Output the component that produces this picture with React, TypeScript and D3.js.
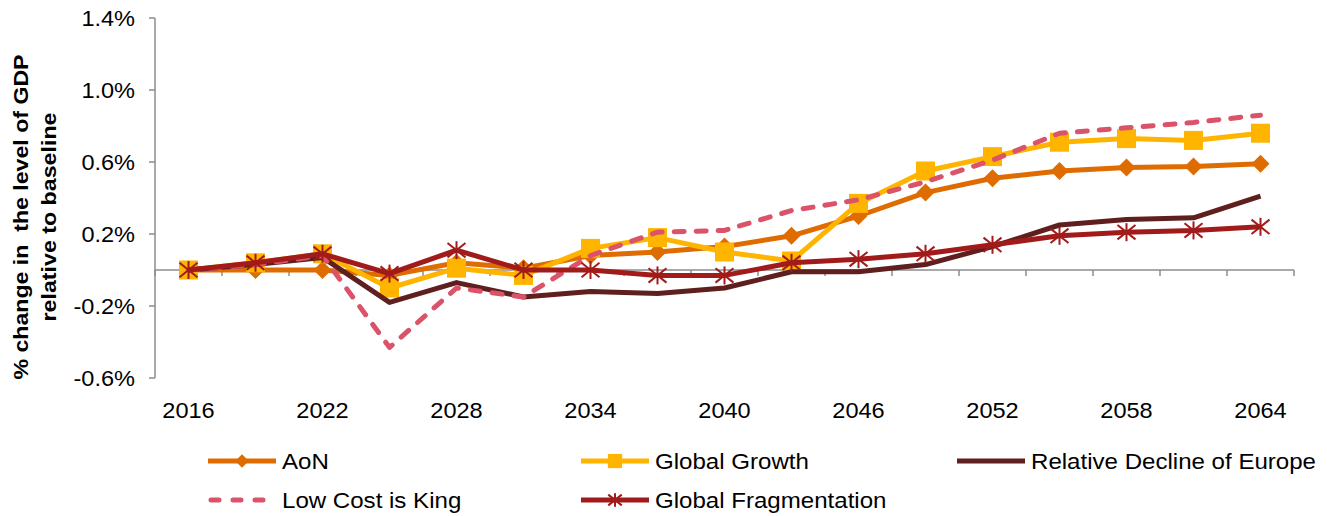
import React from "react";
import * as d3 from "d3";

const years = [2016, 2019, 2022, 2025, 2028, 2031, 2034, 2037, 2040, 2043, 2046, 2049, 2052, 2055, 2058, 2061, 2064];
const yearLabels = [2016, 2022, 2028, 2034, 2040, 2046, 2052, 2058, 2064];
const yTicks = [1.4, 1.0, 0.6, 0.2, -0.2, -0.6];

const aon = [0, 0, 0, -0.03, 0.04, 0.01, 0.08, 0.1, 0.13, 0.19, 0.3, 0.43, 0.51, 0.55, 0.57, 0.575, 0.59];
const globalGrowth = [0, 0.04, 0.09, -0.1, 0.01, -0.03, 0.12, 0.18, 0.1, 0.05, 0.37, 0.55, 0.63, 0.71, 0.73, 0.72, 0.76];
const relDecline = [0, 0.03, 0.07, -0.18, -0.07, -0.15, -0.12, -0.13, -0.1, -0.01, -0.01, 0.03, 0.13, 0.25, 0.28, 0.29, 0.41];
const lowCost = [0, 0.03, 0.08, -0.43, -0.1, -0.15, 0.08, 0.21, 0.22, 0.33, 0.39, 0.49, 0.61, 0.76, 0.79, 0.82, 0.86];
const globalFrag = [0, 0.04, 0.09, -0.02, 0.11, 0.0, 0.0, -0.03, -0.03, 0.04, 0.06, 0.09, 0.14, 0.19, 0.21, 0.22, 0.24];

const seriesNames = ["AoN", "Global Growth", "Relative Decline of Europe", "Low Cost is King", "Global Fragmentation"];

type Series = { name: string; values: number[]; color: string; marker: string; dash?: string };

const series: Series[] = [
  { name: seriesNames[0], values: aon, color: "#DF6C00", marker: "diamond" },
  { name: seriesNames[1], values: globalGrowth, color: "#FFB400", marker: "square" },
  { name: seriesNames[2], values: relDecline, color: "#5E1F1E", marker: "none" },
  { name: seriesNames[3], values: lowCost, color: "#DA5368", marker: "none", dash: "10,12" },
  { name: seriesNames[4], values: globalFrag, color: "#A21B1B", marker: "star" },
];

const FONT = "Arial, 'Liberation Sans', Helvetica, sans-serif";
const AXIS = "#8C8C8C";
const SX = 1.07;

function Marker({ type, x, y, color, k = 1 }: { type: string; x: number; y: number; color: string; k?: number }) {
  if (type === "diamond") {
    const s = 9 * k;
    return <path d={`M${x},${y - s}L${x + s},${y}L${x},${y + s}L${x - s},${y}Z`} fill={color} />;
  }
  if (type === "square") {
    const s = 9.5 * k;
    return <rect x={x - s} y={y - s} width={2 * s} height={2 * s} fill={color} />;
  }
  if (type === "star") {
    const s = 9 * k;
    return (
      <g stroke={color} strokeWidth={2}>
        <line x1={x} y1={y - s} x2={x} y2={y + s} />
        <line x1={x - s} y1={y - s * 0.8} x2={x + s} y2={y + s * 0.8} />
        <line x1={x - s} y1={y + s * 0.8} x2={x + s} y2={y - s * 0.8} />
      </g>
    );
  }
  return null;
}

function SText({ x, y, anchor, size, children }: { x: number; y: number; anchor?: string; size: number; children: React.ReactNode }) {
  return (
    <text
      transform={`translate(${x},${y}) scale(${SX},1)`}
      dy="0.36em"
      textAnchor={anchor || "start"}
      fontSize={size}
      fill="#000"
    >
      {children}
    </text>
  );
}

export default function App() {
  const W = 1327;
  const H = 516;
  const x = d3.scaleBand<number>().domain(years).range([155, 1294]).padding(0);
  const cx = (yr: number) => (x(yr) as number) + x.bandwidth() / 2;
  const y = d3.scaleLinear().domain([-0.6, 1.4]).range([378, 18]);
  const line = d3
    .line<number>()
    .x((_, i) => cx(years[i]))
    .y((v) => y(v));

  const boundaries = years.map((yr) => x(yr) as number).concat([1294]);

  const legendItems = [
    { s: series[0], lx: 208, ty: 461 },
    { s: series[1], lx: 581, ty: 461 },
    { s: series[2], lx: 957, ty: 461 },
    { s: series[3], lx: 208, ty: 500 },
    { s: series[4], lx: 581, ty: 500 },
  ];

  return (
    <svg width={W} height={H} style={{ position: "absolute", left: 0, top: 0, background: "#fff" }} fontFamily={FONT}>
      {/* Y axis */}
      <line x1={155} x2={155} y1={y(1.4)} y2={y(-0.6)} stroke={AXIS} strokeWidth={1.5} />
      {yTicks.map((t) => (
        <g key={t}>
          <line x1={149} x2={155} y1={y(t)} y2={y(t)} stroke={AXIS} strokeWidth={1.5} />
          <SText x={135} y={y(t)} anchor="end" size={22}>
            {`${t.toFixed(1)}%`}
          </SText>
        </g>
      ))}
      {/* X axis at zero */}
      <line x1={155} x2={1294} y1={y(0)} y2={y(0)} stroke={AXIS} strokeWidth={1.5} />
      {boundaries.map((b, i) => (
        <line key={i} x1={b} x2={b} y1={y(0)} y2={y(0) + 6} stroke={AXIS} strokeWidth={1.5} />
      ))}
      {yearLabels.map((yr) => (
        <SText key={yr} x={cx(yr)} y={410} anchor="middle" size={22}>
          {yr}
        </SText>
      ))}
      {/* Y label */}
      <text
        transform="translate(21,217) rotate(-90)"
        textAnchor="middle"
        fontSize={20}
        fontWeight="bold"
        dy="0.36em"
        fill="#000"
        xmlSpace="preserve"
        textLength={325}
        lengthAdjust="spacingAndGlyphs"
      >
        {"% change in  the level of GDP"}
      </text>
      <text
        transform="translate(49,217) rotate(-90)"
        textAnchor="middle"
        fontSize={20}
        fontWeight="bold"
        dy="0.36em"
        fill="#000"
        textLength={209}
        lengthAdjust="spacingAndGlyphs"
      >
        relative to baseline
      </text>
      {/* Series */}
      {series.map((s) => (
        <g key={s.name}>
          <path
            d={line(s.values) || ""}
            fill="none"
            stroke={s.color}
            strokeWidth={5}
            strokeLinejoin="round"
            strokeLinecap={s.dash ? "round" : "butt"}
            strokeDasharray={s.dash}
          />
          {s.values.map((v, i) => (
            <Marker key={i} type={s.marker} x={cx(years[i])} y={y(v)} color={s.color} />
          ))}
        </g>
      ))}
      {/* Legend */}
      {legendItems.map(({ s, lx, ty }) => (
        <g key={s.name}>
          <line
            x1={lx + (s.dash ? 3 : 0)}
            x2={lx + 68}
            y1={ty}
            y2={ty}
            stroke={s.color}
            strokeWidth={5}
            strokeLinecap={s.dash ? "round" : "butt"}
            strokeDasharray={s.dash ? "8,14" : undefined}
          />
          <Marker type={s.marker} x={lx + 34} y={ty} color={s.color} k={0.75} />
          <SText x={lx + 74} y={ty} size={22.5}>
            {s.name}
          </SText>
        </g>
      ))}
    </svg>
  );
}
